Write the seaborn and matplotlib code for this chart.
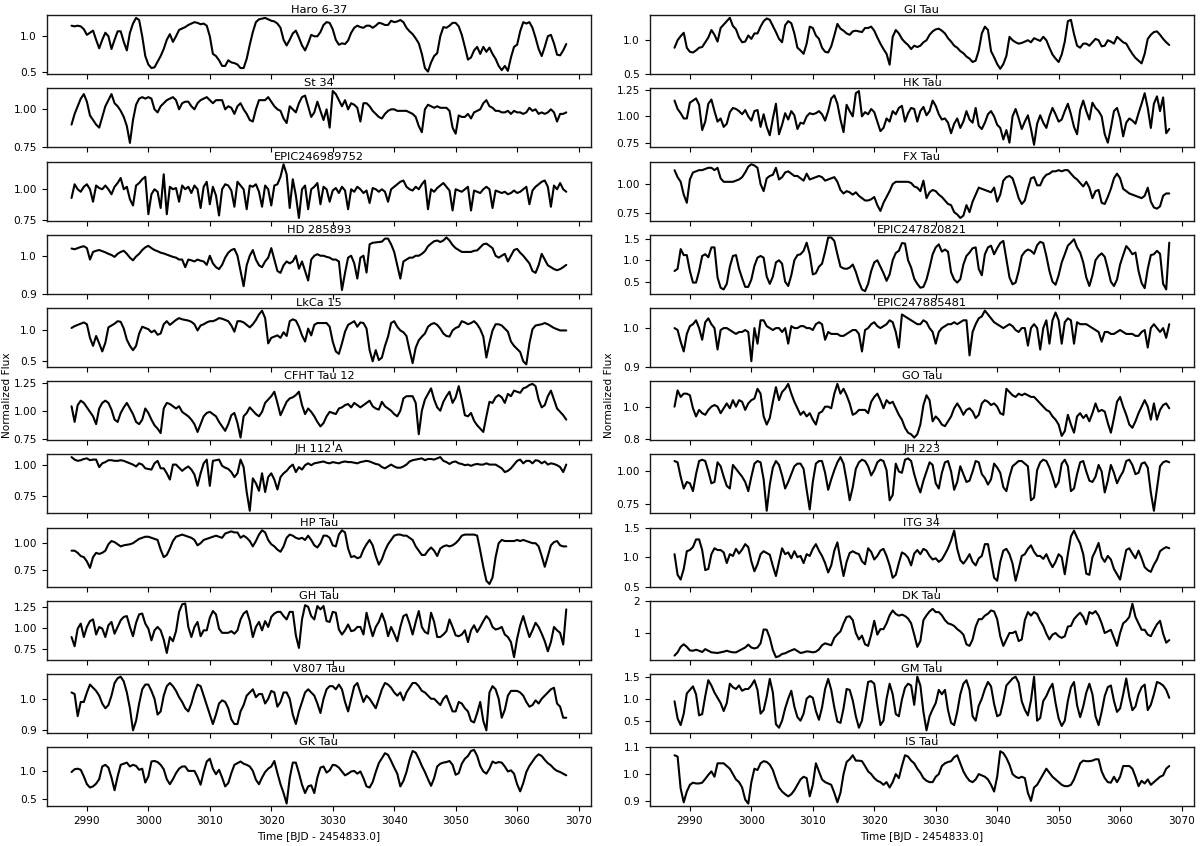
import numpy as np
import matplotlib
matplotlib.use('Agg')
import matplotlib.pyplot as plt
import seaborn as sns

# sample times, half-day grid
time = np.arange(2987.5, 3068.01, 0.5)

# ---- left column ----
haro_6_37 = [
    1.15, 1.14, 1.15, 1.14, 1.10, 1.02, 1.05, 1.08, 0.95, 0.83, 0.95, 1.05, 1.00, 0.82, 0.95, 1.07, 1.07, 0.92, 0.80, 1.05,
    1.18, 1.26, 1.23, 1.00, 0.72, 0.60, 0.55, 0.56, 0.64, 0.72, 0.82, 0.95, 1.03, 0.92, 1.00, 1.09, 1.11, 1.13, 1.16, 1.18,
    1.20, 1.19, 1.17, 1.18, 1.15, 1.00, 0.75, 0.72, 0.66, 0.58, 0.58, 0.66, 0.63, 0.62, 0.60, 0.55, 0.55, 0.68, 0.88, 1.06,
    1.20, 1.24, 1.25, 1.26, 1.24, 1.22, 1.21, 1.18, 1.12, 0.95, 0.87, 0.95, 1.04, 1.08, 0.98, 0.87, 0.80, 0.90, 1.02, 1.00,
    1.00, 1.06, 1.16, 1.20, 1.19, 1.10, 0.95, 0.88, 0.90, 0.89, 0.94, 1.05, 1.12, 1.15, 1.13, 1.12, 1.15, 1.15, 1.12, 1.15,
    1.19, 1.18, 1.16, 1.16, 1.22, 1.20, 1.21, 1.23, 1.20, 1.12, 1.07, 1.03, 0.97, 0.90, 0.75, 0.55, 0.50, 0.63, 0.72, 0.76,
    1.00, 1.13, 1.12, 1.15, 1.19, 1.19, 1.14, 1.02, 0.85, 0.67, 0.70, 0.80, 0.85, 0.75, 0.85, 0.78, 0.84, 0.75, 0.68, 0.58,
    0.52, 0.58, 0.51, 0.70, 0.85, 0.88, 1.07, 1.20, 1.18, 1.20, 1.12, 0.98, 0.82, 0.72, 0.85, 1.00, 1.02, 0.90, 0.74, 0.73,
    0.80, 0.89]
st_34 = [
    0.90, 0.97, 1.02, 1.07, 1.10, 1.05, 0.96, 0.93, 0.90, 0.88, 0.95, 1.02, 1.06, 1.10, 1.04, 1.02, 0.99, 0.95, 0.89, 0.78,
    0.93, 1.03, 1.07, 1.08, 1.07, 1.08, 1.07, 1.00, 0.98, 1.02, 1.04, 1.06, 1.07, 1.08, 1.06, 1.00, 1.04, 1.05, 1.05, 1.02,
    1.00, 1.04, 1.06, 1.07, 1.08, 1.06, 1.04, 1.06, 1.06, 1.06, 1.00, 1.02, 1.01, 0.97, 1.02, 1.04, 1.00, 0.97, 0.93, 0.92,
    1.00, 1.06, 1.06, 1.06, 1.08, 1.05, 1.02, 1.00, 0.99, 0.94, 0.91, 1.02, 1.00, 0.98, 1.04, 1.08, 1.09, 1.02, 0.95, 0.98,
    1.05, 0.99, 0.93, 1.00, 0.88, 1.12, 1.10, 1.06, 1.02, 1.06, 1.00, 1.04, 1.03, 1.01, 0.92, 1.04, 1.04, 1.02, 0.99, 0.97,
    0.95, 0.94, 0.97, 0.99, 1.00, 1.00, 0.99, 0.99, 0.99, 0.99, 0.98, 0.97, 0.95, 0.89, 0.85, 1.00, 1.03, 1.02, 1.01, 1.02,
    1.01, 1.01, 1.01, 0.99, 0.88, 0.84, 0.96, 0.95, 0.95, 0.97, 0.94, 0.98, 0.99, 1.00, 1.04, 1.06, 1.02, 1.01, 0.99, 0.99,
    0.98, 0.98, 0.99, 0.97, 0.99, 0.98, 0.98, 0.97, 0.98, 1.01, 0.99, 1.00, 0.97, 0.98, 0.97, 0.98, 1.00, 0.98, 0.92, 0.97,
    0.97, 0.98]
epic246989752 = [
    0.93, 1.04, 1.00, 0.98, 1.02, 1.04, 1.00, 0.90, 1.03, 1.01, 1.00, 1.03, 1.00, 0.96, 1.02, 1.05, 1.09, 1.00, 1.02, 0.92,
    0.87, 1.03, 1.05, 1.08, 1.10, 0.80, 0.96, 1.00, 0.98, 0.85, 1.12, 0.80, 1.02, 1.00, 1.01, 0.90, 1.03, 1.00, 1.02, 0.97,
    1.03, 1.00, 0.85, 1.02, 1.06, 0.88, 1.02, 0.95, 0.79, 1.00, 1.04, 1.03, 0.99, 0.86, 1.06, 1.03, 1.00, 0.84, 1.03, 1.02,
    1.04, 0.98, 0.86, 1.03, 1.00, 0.87, 1.03, 1.04, 1.10, 1.20, 1.12, 0.85, 1.08, 0.95, 0.77, 1.00, 1.03, 0.84, 1.00, 1.02,
    1.05, 0.88, 1.02, 1.00, 0.90, 0.99, 1.01, 0.97, 1.02, 0.99, 0.84, 1.00, 0.98, 1.02, 1.00, 0.97, 0.99, 0.89, 1.01, 1.00,
    0.98, 1.00, 0.98, 0.90, 1.00, 1.02, 1.04, 1.06, 1.07, 1.02, 1.00, 0.99, 1.02, 1.00, 1.04, 1.07, 0.84, 1.00, 0.98, 1.01,
    1.03, 1.05, 1.02, 0.99, 0.83, 1.00, 0.99, 0.98, 1.00, 1.02, 0.83, 0.99, 0.98, 0.97, 1.00, 1.02, 1.00, 0.85, 0.99, 0.98,
    0.97, 0.98, 0.96, 0.97, 0.99, 0.97, 0.98, 1.00, 1.02, 0.88, 0.99, 1.02, 1.04, 1.06, 1.07, 1.02, 0.86, 1.03, 1.00, 1.05,
    1.00, 0.98]
hd_285893 = [
    1.019, 1.017, 1.020, 1.023, 1.025, 1.020, 0.990, 1.010, 1.013, 1.015, 1.012, 1.009, 1.005, 1.002, 0.997, 1.005, 1.010, 1.013, 1.005, 0.995,
    0.988, 0.998, 1.005, 1.015, 1.022, 1.026, 1.020, 1.015, 1.012, 1.008, 1.006, 1.003, 1.000, 0.997, 0.995, 0.990, 0.990, 0.970, 0.990, 0.988,
    0.985, 0.990, 0.987, 0.985, 0.976, 1.000, 0.980, 0.970, 0.965, 0.976, 0.995, 1.008, 1.015, 1.018, 1.000, 0.960, 0.920, 0.975, 1.000, 1.015,
    0.990, 0.975, 0.970, 0.985, 0.995, 1.020, 0.990, 0.960, 0.955, 0.975, 0.985, 0.980, 0.985, 1.000, 0.966, 0.985, 0.960, 0.935, 0.990, 1.000,
    1.004, 1.000, 1.000, 0.997, 0.995, 0.990, 0.990, 0.985, 0.910, 0.955, 0.995, 1.000, 0.980, 0.940, 0.995, 1.000, 0.956, 1.030, 1.034, 1.035,
    1.036, 1.037, 1.045, 1.045, 1.030, 1.010, 0.975, 0.940, 0.985, 0.990, 0.995, 0.995, 1.000, 1.000, 1.005, 1.012, 1.025, 1.032, 1.038, 1.040,
    1.036, 1.040, 1.048, 1.040, 1.028, 1.020, 1.015, 1.010, 1.010, 1.010, 1.010, 1.013, 1.014, 1.022, 1.030, 1.032, 1.026, 1.020, 1.000, 0.995,
    1.000, 1.005, 0.985, 1.000, 1.015, 1.018, 1.008, 1.000, 0.990, 0.980, 0.960, 0.955, 0.975, 1.005, 0.990, 0.975, 0.970, 0.965, 0.962, 0.965,
    0.970, 0.976]
lkca_15 = [
    1.04, 1.07, 1.09, 1.11, 1.13, 1.10, 0.88, 0.75, 0.91, 0.79, 0.66, 0.80, 1.05, 1.08, 1.11, 1.15, 1.14, 1.03, 0.85, 0.75,
    0.68, 0.75, 0.95, 1.06, 1.04, 1.02, 0.97, 1.00, 0.93, 0.95, 1.10, 1.15, 1.09, 1.13, 1.17, 1.20, 1.18, 1.17, 1.16, 1.14,
    1.10, 1.00, 1.08, 1.10, 1.13, 1.15, 1.15, 1.17, 1.20, 1.19, 1.17, 1.15, 1.08, 0.98, 1.15, 1.15, 1.13, 1.09, 1.05, 1.10,
    1.17, 1.26, 1.32, 1.20, 0.79, 0.88, 0.90, 0.92, 0.88, 0.97, 0.91, 1.15, 1.18, 1.16, 1.06, 0.92, 0.82, 1.03, 0.92, 1.09,
    1.12, 1.12, 1.12, 1.12, 1.06, 0.82, 0.66, 0.62, 0.79, 0.98, 1.09, 1.12, 1.15, 1.06, 1.13, 1.12, 1.03, 0.68, 0.50, 0.68,
    0.52, 0.56, 0.75, 0.90, 1.12, 1.15, 1.06, 1.00, 0.97, 0.91, 0.68, 0.47, 0.72, 0.84, 0.90, 0.95, 1.06, 1.10, 1.12, 1.09,
    1.03, 0.95, 0.91, 0.90, 1.00, 1.04, 1.06, 1.15, 1.13, 1.10, 1.12, 1.15, 1.10, 1.02, 0.90, 0.56, 0.80, 1.00, 1.10, 1.10,
    1.08, 1.03, 0.98, 0.82, 0.75, 0.70, 0.65, 0.50, 0.45, 0.79, 1.02, 1.08, 1.09, 1.10, 1.12, 1.10, 1.07, 1.04, 1.02, 1.00,
    1.00, 1.00]
cfht_tau_12 = [
    1.04, 0.90, 1.05, 1.09, 1.07, 1.03, 0.99, 0.95, 0.88, 1.02, 1.07, 1.09, 1.07, 1.01, 0.92, 0.90, 0.98, 1.03, 1.07, 1.02,
    0.97, 0.90, 0.88, 0.92, 1.02, 0.98, 0.92, 0.87, 0.84, 0.80, 1.02, 1.07, 1.06, 1.04, 1.02, 1.04, 0.99, 0.97, 0.95, 0.92,
    0.88, 0.81, 0.88, 0.95, 0.98, 0.99, 0.97, 0.95, 0.90, 0.86, 0.82, 0.88, 0.96, 0.98, 0.89, 0.76, 0.95, 0.98, 1.03, 1.00,
    0.97, 0.95, 0.99, 1.07, 1.10, 1.13, 1.17, 1.07, 0.96, 1.02, 1.08, 1.11, 1.12, 1.14, 1.17, 1.05, 0.97, 1.02, 0.99, 0.95,
    0.90, 0.86, 0.89, 0.95, 0.99, 0.98, 0.97, 1.02, 1.03, 1.05, 1.06, 1.03, 1.07, 1.05, 1.03, 1.05, 1.07, 1.09, 1.04, 1.02,
    1.01, 1.08, 1.04, 1.02, 1.00, 0.97, 0.95, 1.00, 1.11, 1.13, 1.13, 1.13, 1.07, 0.79, 1.00, 1.10, 1.15, 1.20, 1.10, 1.03,
    1.00, 1.08, 1.13, 1.17, 1.07, 1.12, 1.22, 1.10, 0.96, 0.95, 0.98, 0.91, 0.87, 0.84, 0.81, 0.95, 1.08, 1.07, 1.12, 1.14,
    1.12, 1.07, 1.15, 1.13, 1.18, 1.17, 1.16, 1.20, 1.21, 1.23, 1.24, 1.22, 1.10, 1.03, 1.05, 1.13, 1.18, 1.10, 1.02, 0.99,
    0.96, 0.92]
jh_112_a = [
    1.060, 1.040, 1.030, 1.035, 1.045, 1.050, 1.035, 1.040, 1.040, 0.980, 1.010, 1.020, 1.035, 1.035, 1.030, 1.030, 1.035, 1.030, 1.020, 1.010,
    1.000, 0.985, 1.010, 1.000, 0.970, 0.965, 0.960, 1.010, 1.030, 0.970, 0.970, 0.930, 0.880, 1.000, 1.000, 0.975, 0.950, 0.970, 0.985, 0.960,
    0.920, 0.830, 0.930, 1.010, 1.040, 0.830, 1.030, 1.035, 1.040, 0.990, 0.975, 0.965, 0.940, 0.900, 0.930, 1.040, 0.980, 0.780, 0.630, 0.890,
    0.850, 0.790, 0.930, 0.780, 0.900, 0.930, 0.880, 0.800, 0.900, 0.930, 0.950, 0.980, 1.000, 0.940, 0.980, 0.960, 0.995, 1.010, 0.995, 1.010,
    1.015, 1.020, 1.025, 1.015, 1.010, 1.020, 1.015, 1.010, 1.020, 1.025, 1.020, 1.020, 1.015, 1.010, 1.020, 1.025, 1.030, 1.025, 1.015, 1.005,
    1.000, 0.980, 0.970, 0.985, 1.000, 0.985, 0.975, 0.975, 0.985, 1.000, 1.025, 1.035, 1.040, 1.045, 1.050, 1.035, 1.045, 1.045, 1.040, 1.050,
    1.060, 1.030, 1.020, 1.005, 1.020, 1.025, 1.010, 1.005, 0.995, 1.000, 0.990, 1.000, 1.005, 1.000, 1.000, 1.010, 1.000, 1.000, 1.000, 0.985,
    0.970, 0.940, 0.950, 0.970, 1.000, 1.030, 1.040, 1.010, 1.030, 1.030, 1.010, 1.035, 1.030, 1.010, 1.025, 1.000, 1.010, 1.005, 0.995, 0.980,
    0.940, 1.000]
hp_tau = [
    0.93, 0.93, 0.91, 0.88, 0.87, 0.83, 0.77, 0.87, 0.91, 0.90, 0.91, 0.93, 0.99, 1.02, 1.01, 0.99, 0.97, 0.98, 0.985, 0.99,
    1.00, 1.02, 1.04, 1.05, 1.06, 1.06, 1.05, 1.04, 1.03, 0.94, 0.87, 0.89, 0.95, 1.02, 1.06, 1.07, 1.08, 1.07, 1.06, 1.05,
    1.03, 0.98, 1.00, 1.03, 1.04, 1.05, 1.06, 1.07, 1.06, 1.05, 1.09, 1.10, 1.11, 1.10, 1.10, 1.05, 1.07, 1.05, 1.02, 0.97,
    1.02, 1.08, 1.12, 1.10, 1.03, 0.99, 0.97, 0.94, 0.92, 0.97, 1.05, 1.08, 1.07, 1.05, 1.04, 1.05, 1.03, 1.07, 1.03, 0.98,
    0.96, 1.00, 1.07, 1.07, 1.05, 0.98, 0.97, 1.08, 1.12, 1.10, 0.95, 0.87, 0.88, 0.86, 0.87, 0.94, 0.99, 1.03, 0.98, 0.88,
    0.80, 0.85, 0.93, 0.99, 1.03, 1.07, 1.08, 1.08, 1.07, 1.07, 1.05, 1.03, 0.97, 0.93, 0.89, 0.89, 0.93, 0.96, 0.93, 0.88,
    0.95, 0.97, 0.98, 0.97, 0.98, 1.00, 1.03, 1.07, 1.08, 1.08, 1.08, 1.08, 1.07, 0.93, 0.78, 0.65, 0.62, 0.68, 0.87, 1.00,
    1.03, 1.02, 1.02, 1.02, 1.02, 1.03, 1.02, 1.03, 1.02, 1.01, 1.00, 1.00, 0.97, 0.88, 0.78, 0.88, 0.98, 1.01, 1.02, 0.98,
    0.97, 0.97]
gh_tau = [
    0.89, 0.78, 0.99, 1.05, 0.89, 1.01, 1.08, 1.10, 0.92, 1.01, 0.99, 0.89, 1.03, 1.07, 0.93, 1.01, 1.09, 1.13, 1.14, 1.01,
    0.90, 1.06, 1.16, 1.17, 1.05, 0.99, 0.85, 0.97, 1.01, 0.97, 0.86, 0.70, 0.89, 0.84, 0.96, 1.19, 1.28, 1.29, 1.01, 0.89,
    1.01, 1.07, 0.90, 0.97, 0.97, 1.12, 1.20, 1.16, 0.99, 0.94, 0.94, 0.94, 0.96, 0.93, 0.97, 1.10, 1.17, 1.20, 1.08, 0.89,
    1.01, 1.07, 0.97, 1.08, 1.01, 1.13, 1.17, 1.19, 1.19, 1.14, 1.10, 1.19, 1.19, 0.91, 0.76, 1.10, 1.27, 1.25, 1.14, 1.10,
    1.26, 1.22, 1.26, 1.08, 1.07, 1.19, 1.18, 0.98, 0.92, 0.97, 1.04, 0.96, 0.97, 1.01, 1.01, 0.92, 1.18, 1.03, 0.90, 1.01,
    1.07, 1.17, 1.07, 0.90, 1.01, 0.93, 0.84, 1.01, 1.14, 1.16, 1.05, 0.92, 1.07, 1.20, 1.01, 0.95, 0.93, 1.18, 1.07, 0.89,
    0.89, 0.92, 0.96, 1.10, 1.01, 0.91, 0.90, 0.92, 0.97, 0.83, 0.97, 1.03, 0.95, 1.01, 1.08, 1.14, 1.10, 1.01, 0.98, 0.99,
    1.01, 0.92, 0.89, 0.83, 0.65, 0.87, 1.03, 1.14, 1.01, 0.89, 0.97, 1.06, 1.01, 0.93, 0.84, 0.72, 0.83, 1.01, 0.97, 0.94,
    0.80, 1.22]
v807_tau = [
    1.020, 1.015, 0.945, 0.990, 0.990, 1.020, 1.045, 1.035, 1.025, 1.010, 0.985, 0.970, 0.980, 1.010, 1.050, 1.065, 1.070, 1.055, 1.020, 0.970,
    0.900, 0.930, 0.985, 1.030, 1.045, 1.045, 1.025, 1.000, 0.950, 0.960, 1.010, 1.040, 1.050, 1.040, 1.025, 1.005, 0.990, 0.970, 0.960, 0.985,
    1.020, 1.045, 1.040, 1.010, 0.980, 0.950, 0.920, 0.950, 0.985, 0.995, 0.990, 0.970, 0.935, 0.920, 0.920, 0.960, 0.980, 1.010, 1.020, 1.030,
    1.005, 1.015, 1.015, 0.985, 1.000, 1.025, 1.020, 0.975, 0.990, 1.020, 1.020, 1.000, 0.950, 0.920, 0.960, 0.990, 1.020, 1.030, 1.020, 1.010,
    0.985, 0.955, 1.000, 1.030, 1.040, 1.040, 1.030, 1.045, 1.030, 0.990, 0.960, 1.000, 1.040, 1.050, 1.020, 0.990, 1.010, 1.000, 0.985, 0.970,
    1.000, 1.030, 1.050, 1.045, 1.035, 1.020, 1.010, 1.020, 0.995, 1.020, 1.035, 1.050, 1.050, 1.040, 1.025, 1.020, 1.010, 1.000, 1.000, 0.990,
    0.980, 1.000, 1.010, 0.985, 0.960, 0.960, 0.990, 0.985, 0.970, 0.960, 0.930, 0.925, 0.955, 0.990, 0.930, 0.900, 1.020, 1.040, 1.030, 1.000,
    0.940, 0.965, 1.010, 1.025, 1.025, 1.025, 1.020, 1.010, 0.990, 0.975, 0.980, 0.995, 0.985, 1.000, 1.010, 1.020, 1.030, 1.035, 0.985, 0.975,
    0.940, 0.940]
gk_tau = [
    0.98, 1.03, 1.04, 1.02, 0.90, 0.76, 0.70, 0.72, 0.77, 0.85, 1.08, 1.11, 1.06, 0.88, 0.65, 0.90, 1.11, 1.13, 1.15, 1.08,
    1.11, 1.09, 1.02, 1.04, 0.79, 0.90, 1.17, 1.18, 1.16, 1.11, 1.03, 0.85, 0.76, 0.85, 0.96, 1.04, 1.08, 1.08, 1.00, 1.00,
    1.00, 0.89, 0.75, 0.98, 1.17, 1.22, 1.04, 0.94, 1.02, 0.88, 0.72, 0.78, 0.96, 1.11, 1.14, 1.17, 1.13, 1.11, 1.08, 1.00,
    0.84, 0.76, 0.88, 0.98, 1.04, 1.08, 1.18, 0.96, 0.76, 0.60, 0.41, 0.87, 1.15, 1.15, 0.96, 0.75, 0.60, 0.72, 0.74, 0.60,
    0.88, 1.06, 1.08, 0.97, 1.01, 1.11, 1.10, 1.06, 0.99, 0.92, 0.95, 0.99, 1.00, 0.95, 0.99, 0.87, 0.72, 0.70, 0.80, 0.98,
    1.14, 1.23, 1.32, 1.29, 1.18, 1.06, 0.95, 0.72, 0.82, 0.98, 1.20, 1.36, 1.33, 1.22, 1.09, 0.98, 0.85, 0.73, 0.87, 1.08,
    1.13, 1.15, 1.16, 1.18, 1.11, 0.93, 0.96, 1.13, 1.22, 1.27, 1.36, 1.38, 1.27, 1.09, 0.99, 0.95, 1.04, 1.17, 1.14, 1.16,
    1.15, 1.08, 0.99, 1.01, 0.95, 0.76, 0.63, 0.78, 0.98, 1.09, 1.17, 1.25, 1.30, 1.27, 1.20, 1.14, 1.10, 1.04, 1.00, 0.98,
    0.95, 0.92]

# ---- right column ----
gi_tau = [
    0.89, 1.00, 1.06, 1.11, 0.89, 0.83, 0.82, 0.85, 0.89, 0.90, 0.97, 1.04, 1.15, 1.08, 0.98, 1.18, 1.23, 1.28, 1.33, 1.21,
    1.16, 1.04, 0.97, 0.98, 1.07, 1.02, 1.10, 1.10, 1.20, 1.28, 1.32, 1.30, 1.21, 1.12, 1.02, 0.97, 1.22, 1.28, 1.25, 1.10,
    0.89, 0.85, 0.80, 0.95, 1.20, 1.18, 1.07, 1.02, 0.89, 0.83, 0.82, 0.91, 1.07, 1.24, 1.17, 1.14, 1.10, 1.08, 1.13, 1.14,
    1.13, 1.12, 1.18, 1.18, 1.20, 1.14, 1.04, 0.95, 0.87, 0.80, 0.64, 1.05, 1.15, 1.10, 1.02, 0.97, 0.93, 0.87, 0.92, 0.90,
    0.92, 0.97, 1.00, 1.08, 1.13, 1.16, 1.17, 1.14, 1.10, 1.03, 0.98, 0.92, 0.89, 0.84, 0.81, 0.76, 0.73, 0.68, 0.70, 0.85,
    1.10, 1.20, 1.15, 0.84, 0.75, 0.65, 0.58, 0.65, 0.77, 1.05, 1.00, 0.97, 0.95, 0.96, 0.98, 1.00, 0.97, 1.03, 1.01, 0.99,
    1.05, 1.00, 0.89, 0.79, 0.73, 0.68, 0.79, 0.98, 1.28, 1.30, 1.09, 0.92, 0.89, 0.95, 0.95, 0.92, 0.97, 1.02, 1.00, 0.91,
    0.92, 1.00, 0.98, 0.95, 1.05, 1.01, 0.97, 0.95, 0.87, 0.80, 0.74, 0.70, 0.66, 0.80, 1.02, 1.08, 1.12, 1.13, 1.08, 1.02,
    0.97, 0.93]
hk_tau = [
    1.15, 1.07, 1.03, 0.98, 0.98, 1.13, 1.15, 1.17, 1.11, 0.87, 0.95, 1.12, 1.16, 1.05, 0.95, 0.98, 0.90, 0.93, 1.04, 1.08,
    1.07, 1.05, 1.02, 1.06, 1.00, 0.96, 1.05, 1.06, 0.90, 1.02, 0.90, 0.82, 0.98, 1.12, 0.83, 0.92, 1.03, 0.97, 1.05, 1.01,
    0.88, 0.94, 0.93, 1.00, 1.03, 1.02, 1.03, 1.05, 1.02, 0.96, 1.05, 1.17, 1.20, 1.12, 0.97, 0.85, 1.11, 1.05, 1.00, 1.22,
    1.24, 1.00, 1.04, 1.02, 1.07, 1.04, 0.95, 0.86, 0.89, 0.98, 0.95, 1.05, 1.02, 1.08, 1.10, 0.95, 1.03, 1.08, 1.07, 0.95,
    1.05, 1.09, 1.01, 1.05, 1.15, 1.10, 1.02, 0.97, 0.98, 0.94, 0.84, 0.93, 0.98, 0.89, 0.95, 1.05, 0.97, 0.94, 1.08, 0.91,
    0.88, 0.94, 1.02, 1.05, 1.00, 0.92, 0.89, 0.78, 0.87, 0.75, 1.00, 1.07, 0.98, 0.88, 0.95, 1.01, 0.88, 0.73, 0.93, 1.01,
    0.94, 0.89, 1.00, 1.08, 1.02, 0.95, 0.97, 1.05, 1.12, 1.02, 0.90, 0.83, 1.06, 1.15, 1.05, 0.97, 1.13, 1.08, 1.05, 1.00,
    0.83, 0.75, 0.89, 1.05, 1.08, 0.98, 0.81, 0.94, 0.98, 0.96, 0.93, 1.03, 1.12, 1.22, 1.08, 0.89, 1.12, 1.19, 1.05, 1.18,
    0.84, 0.88]
fx_tau = [
    1.12, 1.06, 1.02, 0.91, 0.84, 1.04, 1.10, 1.11, 1.12, 1.12, 1.13, 1.14, 1.14, 1.12, 1.14, 1.05, 1.02, 1.02, 1.02, 1.02,
    1.03, 1.04, 1.06, 1.10, 1.15, 1.17, 1.16, 1.14, 1.00, 0.94, 1.05, 1.07, 1.08, 1.14, 1.04, 1.06, 1.10, 1.11, 1.09, 1.07,
    1.07, 1.05, 1.03, 1.09, 1.04, 1.05, 1.06, 1.07, 1.06, 1.03, 1.04, 1.05, 1.06, 1.02, 0.95, 0.92, 0.94, 0.93, 0.91, 0.93,
    0.90, 0.88, 0.86, 0.86, 0.87, 0.89, 0.82, 0.77, 0.84, 0.89, 0.94, 1.00, 1.02, 1.02, 1.02, 1.02, 1.02, 1.01, 0.98, 0.97,
    0.94, 1.03, 0.88, 0.93, 0.95, 0.94, 0.91, 0.89, 0.86, 0.83, 0.82, 0.76, 0.74, 0.71, 0.73, 0.82, 0.76, 0.85, 0.91, 0.97,
    0.96, 0.95, 0.94, 0.93, 0.97, 0.85, 0.91, 1.03, 1.06, 1.07, 1.05, 0.97, 0.88, 0.83, 0.86, 0.96, 1.05, 1.06, 0.99, 0.99,
    1.05, 1.08, 1.09, 1.11, 1.11, 1.12, 1.11, 1.12, 1.12, 1.09, 1.06, 1.04, 1.01, 0.98, 1.02, 0.97, 0.88, 0.94, 0.95, 0.84,
    0.83, 0.89, 0.96, 1.05, 1.09, 1.05, 0.96, 0.94, 0.92, 0.91, 0.90, 0.89, 0.88, 0.90, 0.97, 0.85, 0.80, 0.79, 0.81, 0.90,
    0.92, 0.92]
epic247820821 = [
    0.75, 0.80, 1.26, 1.12, 1.12, 0.75, 0.48, 0.48, 0.75, 1.10, 1.14, 1.07, 1.30, 1.30, 0.60, 0.36, 0.32, 0.45, 0.85, 1.10,
    1.12, 0.80, 0.58, 0.38, 0.38, 0.55, 0.87, 1.06, 1.10, 1.06, 0.62, 0.45, 0.62, 0.95, 1.00, 0.92, 0.50, 0.40, 0.65, 1.00,
    1.12, 1.14, 1.22, 1.41, 1.14, 0.67, 0.70, 0.85, 0.92, 1.20, 1.53, 1.53, 1.45, 1.14, 0.85, 0.81, 0.80, 0.83, 0.90, 0.73,
    0.50, 0.32, 0.28, 0.45, 0.75, 0.95, 1.00, 0.85, 0.70, 0.52, 0.67, 1.00, 1.17, 1.22, 1.40, 1.39, 1.00, 0.83, 0.57, 0.45,
    0.36, 0.38, 0.55, 0.83, 1.14, 1.30, 1.37, 1.20, 1.25, 1.20, 0.72, 0.55, 0.48, 0.56, 0.90, 1.10, 1.18, 1.28, 1.30, 0.80,
    0.65, 1.14, 1.30, 1.34, 1.14, 1.28, 1.40, 1.45, 1.02, 0.60, 0.44, 0.48, 0.75, 1.10, 1.20, 1.25, 1.22, 1.15, 1.35, 1.43,
    1.40, 1.10, 0.75, 0.50, 0.43, 0.65, 0.95, 1.14, 1.34, 1.41, 1.49, 1.30, 1.18, 0.95, 0.60, 0.40, 0.65, 1.00, 1.10, 1.16,
    1.08, 0.80, 0.50, 0.40, 0.55, 0.90, 1.12, 1.33, 1.25, 1.14, 1.18, 0.75, 0.47, 0.35, 0.80, 1.12, 1.14, 1.22, 1.15, 0.45,
    0.32, 1.41]
epic247885481 = [
    1.000, 0.995, 0.965, 0.940, 0.985, 1.005, 1.010, 1.020, 1.000, 0.970, 1.015, 1.025, 1.010, 1.000, 0.945, 0.995, 1.000, 1.000, 0.995, 0.990,
    0.985, 0.990, 0.990, 0.995, 0.990, 0.915, 1.000, 0.960, 1.020, 1.020, 1.005, 1.000, 0.995, 1.000, 1.000, 0.990, 1.000, 0.960, 1.005, 1.000,
    1.000, 1.005, 1.005, 1.000, 1.000, 0.995, 1.010, 1.015, 1.010, 0.970, 0.990, 0.985, 0.985, 0.985, 0.980, 0.980, 0.985, 0.990, 0.995, 0.995,
    0.985, 0.940, 0.995, 1.000, 1.010, 1.015, 1.005, 1.000, 1.005, 1.010, 1.020, 1.015, 0.990, 0.950, 1.035, 1.030, 1.025, 1.020, 1.015, 1.010,
    1.010, 1.020, 1.015, 1.000, 0.990, 0.960, 0.990, 1.000, 1.005, 1.010, 1.010, 1.015, 1.010, 1.015, 1.020, 1.020, 0.930, 0.990, 1.010, 1.025,
    1.030, 1.045, 1.035, 1.025, 1.015, 1.010, 1.005, 1.000, 1.005, 1.010, 1.005, 0.995, 0.990, 1.000, 1.000, 0.955, 1.000, 1.010, 1.000, 0.945,
    1.000, 1.020, 0.960, 1.020, 1.040, 1.020, 0.960, 1.015, 1.025, 1.020, 0.960, 1.015, 1.010, 1.010, 1.010, 1.005, 1.000, 0.995, 0.990, 0.965,
    0.990, 0.990, 0.985, 0.985, 0.990, 0.995, 0.990, 0.985, 0.985, 0.985, 0.980, 0.980, 0.990, 0.995, 0.950, 1.000, 1.010, 1.000, 0.990, 1.000,
    0.975, 1.010]
go_tau = [
    1.00, 1.10, 1.06, 1.08, 1.08, 1.07, 0.99, 0.94, 0.98, 0.96, 0.95, 0.98, 1.00, 1.01, 1.00, 0.96, 0.99, 1.02, 0.99, 1.04,
    1.00, 1.04, 1.03, 0.98, 1.02, 1.04, 1.05, 1.11, 1.08, 0.94, 0.89, 0.93, 1.03, 1.12, 1.04, 1.09, 1.11, 1.14, 1.08, 1.03,
    0.99, 0.95, 0.97, 0.94, 0.96, 0.92, 0.89, 0.96, 0.97, 1.00, 1.00, 0.99, 1.08, 1.14, 1.08, 1.11, 1.07, 1.02, 0.95, 0.96,
    0.98, 0.98, 0.98, 0.96, 1.03, 1.06, 1.08, 1.04, 0.99, 1.04, 1.02, 1.03, 0.99, 0.95, 0.92, 0.87, 0.84, 0.83, 0.81, 0.83,
    0.89, 1.01, 1.07, 1.04, 0.91, 0.94, 0.92, 0.89, 0.88, 0.91, 0.94, 0.99, 1.02, 0.99, 0.95, 0.98, 0.99, 0.97, 0.93, 0.95,
    1.02, 1.04, 1.03, 1.01, 1.02, 1.00, 0.96, 0.95, 1.11, 1.09, 1.07, 1.06, 1.08, 1.07, 1.08, 1.07, 1.06, 1.06, 1.04, 1.02,
    1.00, 0.98, 0.97, 0.94, 0.92, 0.89, 0.82, 0.85, 0.95, 0.89, 0.84, 0.94, 0.96, 0.93, 0.95, 0.91, 0.96, 1.02, 0.97, 0.98,
    0.97, 0.90, 0.84, 0.93, 1.03, 1.06, 1.00, 0.95, 0.89, 0.87, 0.91, 0.96, 1.00, 1.04, 1.00, 0.92, 1.02, 0.92, 0.98, 1.01,
    1.02, 0.99]
jh_223 = [
    1.08, 1.07, 0.96, 0.87, 0.92, 0.91, 0.85, 0.98, 1.08, 1.09, 1.08, 1.00, 0.91, 0.92, 1.07, 1.04, 0.96, 0.89, 0.87, 1.05,
    1.02, 0.99, 0.96, 0.92, 0.85, 0.96, 1.06, 1.08, 1.07, 0.94, 0.70, 0.90, 1.03, 1.08, 1.05, 0.97, 0.87, 0.92, 0.98, 1.04,
    1.06, 1.06, 1.02, 0.86, 0.71, 0.92, 1.06, 1.08, 1.08, 0.99, 0.86, 0.94, 1.01, 1.07, 1.11, 1.06, 0.93, 0.78, 0.88, 1.02,
    1.07, 1.09, 1.08, 1.04, 0.97, 1.01, 1.07, 1.09, 1.08, 1.01, 0.78, 0.82, 1.06, 1.00, 0.99, 1.09, 1.10, 1.08, 0.98, 0.90,
    0.84, 0.93, 1.00, 1.07, 1.05, 0.91, 0.87, 0.99, 1.07, 1.08, 1.00, 0.86, 0.92, 1.04, 0.98, 0.92, 0.93, 1.00, 1.08, 1.07,
    0.98, 0.95, 0.90, 0.94, 1.06, 1.03, 0.99, 0.88, 0.85, 0.96, 1.04, 1.06, 1.08, 1.08, 1.06, 1.04, 0.78, 0.80, 1.01, 1.07,
    1.09, 1.08, 1.03, 0.96, 0.88, 0.92, 1.06, 1.09, 1.04, 0.85, 0.87, 0.98, 1.07, 1.08, 1.00, 0.93, 0.92, 0.96, 1.05, 1.00,
    0.84, 0.93, 1.05, 0.99, 0.91, 0.96, 1.00, 1.08, 1.09, 1.05, 0.98, 0.99, 1.06, 1.07, 1.03, 0.84, 0.70, 0.87, 1.04, 1.07,
    1.08, 1.07]
itg_34 = [
    1.05, 0.70, 0.62, 0.80, 1.10, 1.12, 1.17, 1.30, 1.30, 1.12, 0.78, 0.80, 1.05, 1.15, 1.12, 1.12, 1.08, 0.90, 1.05, 1.02,
    1.14, 1.06, 1.13, 1.22, 1.17, 0.93, 0.76, 0.88, 1.05, 1.10, 1.07, 1.04, 0.85, 0.68, 0.92, 1.15, 1.05, 1.08, 0.98, 1.10,
    1.00, 1.02, 0.90, 1.05, 1.02, 1.14, 1.22, 1.11, 1.02, 0.90, 0.74, 0.86, 1.11, 1.25, 0.95, 0.68, 0.92, 1.07, 1.10, 1.07,
    1.05, 0.93, 0.88, 1.15, 1.09, 0.96, 1.02, 1.11, 1.14, 1.02, 0.86, 0.65, 0.70, 0.90, 1.08, 1.05, 0.99, 0.86, 1.06, 1.12,
    1.05, 1.14, 1.11, 1.02, 0.96, 0.98, 0.92, 0.96, 1.05, 1.15, 1.28, 1.45, 1.14, 0.95, 0.89, 0.96, 1.05, 0.92, 0.86, 0.98,
    1.02, 1.22, 1.22, 0.93, 0.65, 0.60, 0.92, 1.11, 1.14, 1.05, 0.89, 0.60, 0.80, 1.02, 1.05, 1.14, 1.20, 1.09, 1.02, 1.02,
    0.97, 1.05, 0.93, 0.83, 0.92, 1.05, 1.00, 0.71, 1.05, 1.35, 1.45, 1.33, 1.23, 1.05, 0.72, 0.70, 1.00, 1.11, 1.24, 1.00,
    0.92, 1.02, 0.96, 0.80, 0.71, 0.62, 0.88, 1.12, 1.15, 1.06, 0.98, 1.11, 0.98, 0.83, 0.78, 0.75, 0.87, 0.96, 1.10, 1.14,
    1.17, 1.15]
dk_tau = [
    0.30, 0.40, 0.57, 0.65, 0.57, 0.46, 0.45, 0.48, 0.45, 0.41, 0.50, 0.45, 0.40, 0.39, 0.38, 0.40, 0.42, 0.45, 0.42, 0.40,
    0.40, 0.45, 0.50, 0.55, 0.64, 0.55, 0.52, 0.55, 0.68, 1.11, 1.10, 0.85, 0.47, 0.25, 0.28, 0.35, 0.37, 0.42, 0.46, 0.50,
    0.44, 0.38, 0.40, 0.43, 0.42, 0.40, 0.42, 0.49, 0.62, 0.68, 0.65, 0.62, 0.85, 0.96, 1.05, 1.30, 1.50, 1.52, 1.40, 1.00,
    0.80, 0.92, 0.65, 0.60, 0.95, 1.38, 0.95, 1.12, 1.12, 1.30, 1.55, 1.70, 1.59, 1.54, 1.57, 1.53, 1.45, 1.30, 0.95, 0.57,
    0.75, 1.40, 1.55, 1.67, 1.75, 1.65, 1.65, 1.55, 1.40, 1.30, 1.27, 1.22, 1.12, 1.05, 0.95, 0.65, 0.60, 0.80, 1.20, 1.43,
    1.43, 1.54, 1.60, 1.70, 1.67, 1.43, 0.90, 0.60, 0.80, 1.00, 1.00, 1.05, 0.75, 0.80, 1.40, 1.65, 1.54, 1.65, 1.59, 1.38,
    1.22, 0.98, 0.80, 0.95, 1.00, 0.90, 0.85, 0.90, 1.20, 1.22, 1.43, 1.54, 1.63, 1.50, 1.27, 1.65, 1.60, 1.68, 1.54, 1.30,
    1.00, 1.05, 1.10, 0.85, 0.60, 1.00, 1.30, 1.38, 1.50, 1.91, 1.50, 1.30, 1.10, 1.10, 0.95, 0.90, 1.10, 1.27, 1.38, 0.98,
    0.70, 0.78]
gm_tau = [
    0.94, 0.55, 0.40, 0.66, 1.12, 1.20, 1.28, 1.10, 0.62, 0.65, 1.06, 1.42, 1.30, 1.14, 1.02, 0.90, 0.72, 0.90, 1.34, 1.26,
    1.22, 1.30, 1.18, 1.22, 1.22, 1.30, 1.42, 1.20, 0.66, 0.74, 1.05, 1.45, 1.14, 0.42, 0.34, 0.50, 0.78, 1.00, 1.18, 0.82,
    0.58, 0.50, 0.66, 1.00, 1.06, 1.02, 0.72, 0.52, 0.80, 1.22, 1.45, 1.20, 0.80, 0.48, 0.45, 0.78, 1.22, 1.20, 0.96, 0.60,
    0.34, 0.50, 0.95, 1.38, 1.40, 1.34, 0.85, 0.40, 0.50, 1.00, 1.34, 1.10, 0.65, 0.60, 0.98, 1.25, 1.34, 1.30, 0.86, 1.50,
    1.30, 0.70, 0.28, 0.60, 0.76, 0.90, 1.20, 1.10, 1.20, 0.74, 0.45, 0.40, 0.70, 1.10, 1.34, 1.42, 1.20, 0.60, 0.50, 0.84,
    1.00, 1.22, 1.38, 1.28, 0.88, 0.60, 0.64, 0.94, 1.30, 1.38, 1.46, 1.50, 1.36, 0.94, 0.75, 0.62, 0.96, 1.50, 0.50, 0.56,
    0.95, 1.06, 1.22, 1.34, 0.90, 0.55, 0.38, 0.50, 0.95, 1.26, 1.38, 0.85, 0.58, 0.82, 1.14, 1.34, 1.10, 0.60, 0.40, 0.70,
    1.06, 1.26, 1.30, 0.95, 0.70, 0.78, 1.10, 1.46, 1.04, 0.74, 0.82, 1.10, 1.26, 1.32, 0.74, 0.86, 1.10, 1.38, 1.35, 1.30,
    1.20, 1.02]
is_tau = [
    1.070, 1.065, 0.946, 0.895, 0.935, 0.960, 0.968, 0.965, 0.965, 0.968, 0.982, 0.997, 1.010, 0.990, 1.040, 1.040, 1.040, 1.030, 1.020, 1.000,
    0.980, 0.970, 0.950, 0.905, 0.890, 0.970, 1.020, 1.015, 1.040, 1.048, 1.045, 1.035, 1.015, 0.980, 0.950, 0.935, 0.925, 0.917, 0.925, 0.940,
    0.960, 0.980, 0.990, 0.985, 0.917, 0.960, 1.040, 1.010, 0.980, 0.970, 0.965, 0.960, 0.930, 0.895, 0.930, 1.000, 1.045, 1.055, 1.070, 1.050,
    1.050, 1.048, 1.030, 1.010, 1.000, 0.985, 0.975, 0.970, 0.960, 0.970, 0.950, 0.970, 1.000, 0.985, 1.030, 1.070, 1.065, 1.050, 1.040, 1.020,
    1.005, 0.985, 0.975, 0.970, 0.970, 0.990, 1.000, 1.030, 1.040, 1.045, 1.048, 1.063, 1.070, 1.040, 1.010, 0.990, 0.975, 0.970, 0.980, 1.000,
    0.995, 0.990, 0.980, 0.960, 0.935, 0.990, 1.085, 1.078, 1.060, 1.035, 1.000, 0.990, 0.985, 0.990, 0.985, 0.930, 0.900, 0.950, 0.960, 0.980,
    1.000, 1.020, 1.005, 0.990, 0.980, 0.970, 0.960, 0.955, 0.955, 0.960, 0.980, 1.010, 1.040, 1.050, 1.048, 1.048, 1.050, 1.055, 1.055, 1.010,
    0.985, 0.970, 0.968, 0.990, 0.970, 0.990, 1.030, 1.030, 1.030, 1.020, 0.990, 0.955, 0.975, 0.965, 0.980, 0.960, 0.970, 0.980, 0.990, 0.995,
    1.020, 1.030]

left_names = ['Haro 6-37', 'St 34', 'EPIC246989752', 'HD 285893', 'LkCa 15', 'CFHT Tau 12',
              'JH 112 A', 'HP Tau', 'GH Tau', 'V807 Tau', 'GK Tau']
left_flux = [haro_6_37, st_34, epic246989752, hd_285893, lkca_15, cfht_tau_12,
             jh_112_a, hp_tau, gh_tau, v807_tau, gk_tau]
left_yticks = [[0.5, 1.0], [0.75, 1.0], [0.75, 1.0], [0.9, 1.0], [0.5, 1.0], [0.75, 1.0, 1.25],
               [0.75, 1.0], [0.75, 1.0], [0.75, 1.0, 1.25], [0.9, 1.0], [0.5, 1.0]]

right_names = ['GI Tau', 'HK Tau', 'FX Tau', 'EPIC247820821', 'EPIC247885481', 'GO Tau',
               'JH 223', 'ITG 34', 'DK Tau', 'GM Tau', 'IS Tau']
right_flux = [gi_tau, hk_tau, fx_tau, epic247820821, epic247885481, go_tau,
              jh_223, itg_34, dk_tau, gm_tau, is_tau]
right_yticks = [[0.5, 1.0], [0.75, 1.0, 1.25], [0.75, 1.0], [0.5, 1.0, 1.5], [0.9, 1.0], [0.8, 1.0],
                [0.75, 1.0], [0.5, 1.0, 1.5], [1, 2], [0.5, 1.0, 1.5], [0.9, 1.0, 1.1]]

sns.set_style('ticks')
plt.rcParams.update({
    'font.family': ['DejaVu Sans'],
    'font.size': 7.6,
    'xtick.labelsize': 7.6,
    'ytick.labelsize': 7.6,
    'axes.labelsize': 7.6,
    'axes.titlesize': 8.2,
    'axes.linewidth': 1.0,
    'xtick.major.size': 3.5,
    'ytick.major.size': 3.5,
    'axes.edgecolor': '0.1',
    'text.color': 'black',
    'axes.labelcolor': 'black',
    'xtick.color': 'black',
    'ytick.color': 'black',
})

fig, axes = plt.subplots(11, 2, figsize=(12, 8.46), dpi=100, sharex=True)
fig.subplots_adjust(left=0.039, right=0.995, top=0.982, bottom=0.047,
                    hspace=0.24, wspace=0.108)

columns = [(left_names, left_flux, left_yticks), (right_names, right_flux, right_yticks)]
for col, (names, fluxes, yticks) in enumerate(columns):
    for row in range(11):
        ax = axes[row, col]
        sns.lineplot(x=time, y=np.asarray(fluxes[row]), ax=ax, color='black',
                     linewidth=1.5, sort=False)
        ax.set_title(names[row], pad=0.5)
        ax.set_yticks(yticks[row])
        ax.set_ylabel('')
    axes[10, col].set_xlabel('Time [BJD - 2454833.0]')

# one y label per column, a little above the column middle as in the original
fig.text(0.006, 0.533, 'Normalized Flux', rotation=90, ha='center', va='center', fontsize=7.6)
fig.text(0.5075, 0.533, 'Normalized Flux', rotation=90, ha='center', va='center', fontsize=7.6)

axes[10, 0].set_xticks(range(2990, 3071, 10))

fig.savefig('out.png', dpi=100)
